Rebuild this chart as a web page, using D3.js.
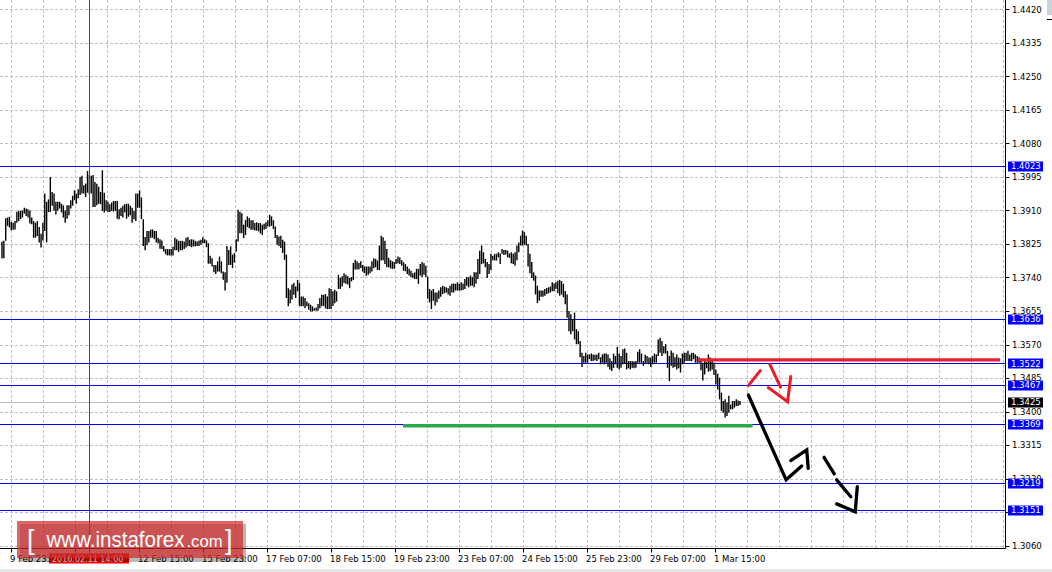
<!DOCTYPE html>
<html><head><meta charset="utf-8">
<script src="https://cdn.jsdelivr.net/npm/d3@7"></script>
<style>html,body{margin:0;padding:0;background:#fff;overflow:hidden}</style>
</head><body>
<svg id="c" width="1052" height="572"></svg>
<script>
// ---------- DATA ----------
const priceTicks = [1.4420,1.4335,1.4250,1.4165,1.4080,1.3995,1.3910,1.3825,1.3740,1.3655,1.3570,1.3485,1.3400,1.3315,1.3230,1.3145,1.3060];
const timeLabels = ["9 Feb 23:00","11 Feb 07:00","12 Feb 15:00","15 Feb 23:00","17 Feb 07:00","18 Feb 15:00","19 Feb 23:00","23 Feb 07:00","24 Feb 15:00","25 Feb 23:00","29 Feb 07:00","1 Mar 15:00"];
const barHigh = [
1.3831,1.3833,1.3890,1.3892,1.3894,1.3881,1.3879,1.3883,1.3907,1.3909,
1.3909,1.3910,1.3917,1.3915,1.3913,1.3910,1.3892,1.3883,1.3879,1.3883,
1.3868,1.3851,1.3879,1.3953,1.3932,1.3938,1.3995,1.3957,1.3953,1.3932,
1.3932,1.3932,1.3927,1.3923,1.3910,1.3923,1.3923,1.3936,1.3947,1.3961,
1.3953,1.3964,1.3995,1.3998,1.3974,1.3978,1.4010,1.4000,1.3998,1.4000,
1.3982,1.3978,1.3970,1.3957,1.4012,1.3955,1.3936,1.3932,1.3926,1.3930,
1.3934,1.3934,1.3934,1.3913,1.3917,1.3922,1.3926,1.3927,1.3927,1.3922,
1.3917,1.3909,1.3953,1.3953,1.3961,1.3943,1.3888,1.3843,1.3858,1.3858,
1.3862,1.3862,1.3858,1.3858,1.3841,1.3837,1.3834,1.3820,1.3812,1.3812,
1.3812,1.3812,1.3818,1.3841,1.3837,1.3833,1.3833,1.3833,1.3831,1.3841,1.3843,
1.3836,1.3837,1.3836,1.3833,1.3831,1.3834,1.3836,1.3842,1.3837,1.3834,
1.3827,1.3795,1.3789,1.3772,1.3772,1.3781,1.3793,1.3781,1.3755,1.3753,
1.3820,1.3810,1.3819,1.3798,1.3802,1.3837,1.3912,1.3907,1.3903,1.3874,
1.3886,1.3895,1.3891,1.3885,1.3885,1.3878,1.3880,1.3878,1.3878,1.3874,
1.3876,1.3880,1.3885,1.3899,1.3895,1.3885,1.3869,1.3848,1.3844,1.3846,
1.3836,1.3831,1.3798,1.3713,1.3709,1.3722,1.3726,1.3717,1.3734,1.3726,
1.3692,1.3692,1.3688,1.3679,1.3675,1.3671,1.3667,1.3662,1.3664,1.3673,
1.3688,1.3696,1.3696,1.3698,1.3692,1.3713,1.3711,1.3705,1.3709,1.3705,
1.3747,1.3739,1.3743,1.3751,1.3747,1.3743,1.3739,1.3741,1.3777,1.3785,
1.3781,1.3777,1.3781,1.3772,1.3768,1.3768,1.3768,1.3768,1.3781,1.3789,
1.3787,1.3783,1.3821,1.3846,1.3842,1.3833,1.3812,1.3790,1.3784,1.3781,
1.3779,1.3787,1.3793,1.3791,1.3784,1.3779,1.3774,1.3768,1.3762,1.3757,
1.3751,1.3753,1.3762,1.3762,1.3774,1.3779,1.3776,1.3770,1.3742,1.3711,
1.3707,1.3711,1.3702,1.3702,1.3707,1.3715,1.3719,1.3717,1.3715,1.3713,
1.3719,1.3724,1.3725,1.3724,1.3728,1.3724,1.3728,1.3725,1.3736,1.3741,
1.3741,1.3745,1.3741,1.3753,1.3753,1.3787,1.3808,1.3821,1.3804,1.3787,
1.3779,1.3774,1.3800,1.3795,1.3800,1.3800,1.3804,1.3801,1.3812,1.3810,
1.3810,1.3808,1.3801,1.3804,1.3800,1.3804,1.3821,1.3829,1.3846,1.3859,
1.3855,1.3846,1.3825,1.3800,1.3779,1.3753,1.3745,1.3719,1.3707,1.3707,
1.3707,1.3711,1.3713,1.3715,1.3717,1.3728,1.3725,1.3728,1.3732,1.3734,
1.3731,1.3724,1.3706,1.3697,1.3655,1.3647,1.3634,1.3651,1.3609,1.3604,
1.3579,1.3549,1.3541,1.3549,1.3545,1.3545,1.3547,1.3545,1.3544,1.3545,
1.3549,1.3538,1.3545,1.3547,1.3547,1.3545,1.3535,1.3528,1.3547,1.3541,
1.3564,1.3547,1.3541,1.3558,1.3560,1.3549,1.3528,1.3528,1.3528,1.3527,
1.3528,1.3552,1.3558,1.3547,1.3528,1.3544,1.3541,1.3537,1.3537,1.3541,
1.3547,1.3545,1.3583,1.3587,1.3579,1.3566,1.3571,1.3554,1.3541,1.3555,
1.3549,1.3538,1.3545,1.3537,1.3535,1.3547,1.3549,1.3549,1.3554,1.3545,
1.3549,1.3549,1.3545,1.3541,1.3538,1.3528,1.3524,1.3528,1.3526,1.3545,
1.3537,1.3528,1.3524,1.3507,1.3496,1.3486,1.3448,1.3427,1.3431,1.3423,
1.3440,1.3418,1.3427,1.3427,1.3431,1.3428,1.3427];
const barLow = [
1.3788,1.3789,1.3833,1.3871,1.3867,1.3860,1.3861,1.3862,1.3879,1.3883,
1.3888,1.3892,1.3902,1.3896,1.3892,1.3877,1.3875,1.3841,1.3841,1.3845,
1.3829,1.3816,1.3834,1.3858,1.3829,1.3906,1.3906,1.3922,1.3909,1.3900,
1.3909,1.3915,1.3905,1.3892,1.3879,1.3889,1.3898,1.3915,1.3922,1.3936,
1.3927,1.3941,1.3949,1.3953,1.3953,1.3944,1.3955,1.3951,1.3953,1.3919,
1.3919,1.3923,1.3927,1.3926,1.3909,1.3905,1.3909,1.3906,1.3906,1.3909,
1.3907,1.3909,1.3889,1.3888,1.3896,1.3892,1.3905,1.3889,1.3894,1.3898,
1.3879,1.3888,1.3883,1.3917,1.3917,1.3888,1.3820,1.3809,1.3822,1.3829,
1.3841,1.3841,1.3837,1.3829,1.3826,1.3813,1.3812,1.3806,1.3799,1.3796,
1.3796,1.3796,1.3796,1.3809,1.3809,1.3805,1.3809,1.3809,1.3812,1.3816,1.3820,
1.3819,1.3817,1.3819,1.3819,1.3820,1.3820,1.3823,1.3827,1.3827,1.3817,
1.3775,1.3775,1.3768,1.3753,1.3749,1.3755,1.3755,1.3751,1.3734,1.3707,
1.3727,1.3772,1.3772,1.3764,1.3778,1.3806,1.3831,1.3852,1.3852,1.3840,
1.3848,1.3868,1.3865,1.3861,1.3861,1.3859,1.3859,1.3857,1.3852,1.3848,
1.3861,1.3863,1.3869,1.3869,1.3871,1.3863,1.3840,1.3823,1.3820,1.3815,
1.3802,1.3785,1.3688,1.3667,1.3675,1.3684,1.3696,1.3688,1.3705,1.3668,
1.3667,1.3667,1.3662,1.3667,1.3658,1.3654,1.3654,1.3656,1.3656,1.3656,
1.3662,1.3667,1.3668,1.3662,1.3660,1.3660,1.3660,1.3668,1.3675,1.3679,
1.3711,1.3711,1.3717,1.3726,1.3724,1.3722,1.3713,1.3730,1.3734,1.3760,
1.3760,1.3761,1.3764,1.3755,1.3751,1.3744,1.3747,1.3751,1.3755,1.3764,
1.3766,1.3759,1.3759,1.3783,1.3784,1.3774,1.3766,1.3766,1.3763,1.3762,
1.3762,1.3774,1.3776,1.3774,1.3770,1.3757,1.3756,1.3749,1.3745,1.3741,
1.3739,1.3736,1.3736,1.3724,1.3745,1.3741,1.3747,1.3741,1.3686,1.3677,
1.3660,1.3681,1.3669,1.3677,1.3686,1.3691,1.3698,1.3700,1.3702,1.3697,
1.3694,1.3702,1.3702,1.3707,1.3707,1.3707,1.3707,1.3708,1.3711,1.3719,
1.3715,1.3719,1.3719,1.3715,1.3724,1.3736,1.3749,1.3774,1.3776,1.3766,
1.3739,1.3749,1.3759,1.3784,1.3783,1.3783,1.3791,1.3774,1.3800,1.3797,
1.3798,1.3791,1.3790,1.3776,1.3774,1.3770,1.3784,1.3804,1.3821,1.3821,
1.3823,1.3821,1.3768,1.3751,1.3739,1.3732,1.3697,1.3675,1.3681,1.3691,
1.3691,1.3694,1.3698,1.3700,1.3702,1.3705,1.3705,1.3711,1.3700,1.3694,
1.3697,1.3690,1.3672,1.3638,1.3604,1.3596,1.3604,1.3583,1.3571,1.3571,
1.3538,1.3513,1.3524,1.3524,1.3524,1.3533,1.3528,1.3528,1.3530,1.3528,
1.3533,1.3520,1.3524,1.3520,1.3524,1.3513,1.3507,1.3503,1.3511,1.3520,
1.3511,1.3507,1.3511,1.3520,1.3521,1.3507,1.3510,1.3507,1.3511,1.3510,
1.3511,1.3524,1.3524,1.3524,1.3516,1.3521,1.3524,1.3520,1.3513,1.3520,
1.3524,1.3524,1.3541,1.3549,1.3541,1.3547,1.3547,1.3511,1.3477,1.3516,
1.3511,1.3513,1.3507,1.3510,1.3499,1.3520,1.3524,1.3528,1.3528,1.3528,
1.3528,1.3533,1.3524,1.3524,1.3524,1.3505,1.3479,1.3494,1.3510,1.3501,
1.3503,1.3507,1.3493,1.3469,1.3456,1.3431,1.3402,1.3397,1.3385,1.3389,
1.3397,1.3406,1.3406,1.3410,1.3414,1.3414,1.3417];
const levelPrices = [1.4023,1.3636,1.3522,1.3467,1.3369,1.3219,1.3151];
const bidPrice = 1.3425;
const crosshairBar = 47;
const crosshairLabel = "2016.02.11 14:00";
// annotations: [bar index, price]
const redResistance = [[374.2,1.3531],[536.9,1.3531]];
const greenSupport = [[215.7,1.3364],[403.8,1.3364]];
const blackMain = [[401.5,1.3442],[421.8,1.3227],[430.2,1.3262]];
const blackHead = [[424.3,1.3276],[432.9,1.3303],[433.7,1.3256]];
const dashSeg1 = [[442.2,1.3284],[447.7,1.3242]];
const dashSeg2 = [[449.0,1.3227],[456.6,1.3184]];
const dashHead = [[449.0,1.3166],[459.0,1.3146],[460.1,1.3210]];
const redSeg1 = [[401.5,1.3466],[407.9,1.3504]];
const redSeg2 = [[413.1,1.3519],[418.8,1.3462]];
const redHead = [[412.2,1.3461],[422.6,1.3425],[424.3,1.3489]];

// ---------- DRAW ----------
const FONT = "'DejaVu Sans', Tahoma, sans-serif";
const FS = '8.5px';
const svg = d3.select('#c');
const plotR = 1005.5, plotB = 548.5;
const y = d3.scaleLinear().domain([1.3060,1.4420]).range([545.7,9.3]);
const N = barHigh.length;
const x = d3.scaleLinear().domain([0,N-1]).range([2,740]);
const tx = d3.scaleLinear().domain([0,timeLabels.length-1]).range([11,715]);
const cy = v => Math.round(y(v)) + 0.5;

// grid
svg.append('g').selectAll('line').data(priceTicks).join('line')
  .attr('x1',0).attr('x2',1003).attr('y1',cy).attr('y2',cy)
  .attr('stroke','#c0c0c0').attr('stroke-dasharray','3,2');
const vGrid = d3.range(0,32).map(k=>k/2);
svg.append('g').selectAll('line').data(vGrid).join('line')
  .attr('x1',d=>Math.round(tx(d))+0.5).attr('x2',d=>Math.round(tx(d))+0.5)
  .attr('y1',0).attr('y2',plotB)
  .attr('stroke','#c0c0c0').attr('stroke-dasharray','3,2');

// bid line
svg.append('line').attr('x1',0).attr('x2',plotR).attr('y1',cy(bidPrice)).attr('y2',cy(bidPrice))
  .attr('stroke','#c0c0c0');
// level lines
svg.append('g').selectAll('line').data(levelPrices).join('line')
  .attr('x1',0).attr('x2',plotR).attr('y1',cy).attr('y2',cy)
  .attr('stroke','#0000ff').attr('stroke-width',1);

// bars
svg.append('g').selectAll('line').data(barHigh).join('line')
  .attr('x1',(d,i)=>x(i)).attr('x2',(d,i)=>x(i))
  .attr('y1',d=>y(d)).attr('y2',(d,i)=>y(barLow[i]))
  .attr('stroke','#000').attr('stroke-width',1.4);

// crosshair
svg.append('line').attr('x1',Math.round(x(crosshairBar))+0.5).attr('x2',Math.round(x(crosshairBar))+0.5)
  .attr('y1',0).attr('y2',553).attr('stroke','#ff0000');

// annotations
const ln = d3.line().x(d=>x(d[0])).y(d=>y(d[1]));
svg.append('path').attr('d',ln(redResistance)).attr('stroke','#e8202a').attr('stroke-width',3.2).attr('fill','none');
svg.append('path').attr('d',ln(greenSupport)).attr('stroke','#2aa84a').attr('stroke-width',3.4).attr('fill','none');
[blackMain,blackHead,dashSeg1,dashSeg2,dashHead].forEach(p=>{
  svg.append('path').attr('d',ln(p)).attr('stroke','#000').attr('stroke-width',3.3)
    .attr('fill','none').attr('stroke-linecap','round').attr('stroke-linejoin','miter');
});
[redSeg1,redSeg2,redHead].forEach(p=>{
  svg.append('path').attr('d',ln(p)).attr('stroke','#ee1c25').attr('stroke-width',3)
    .attr('fill','none').attr('stroke-linecap','round').attr('stroke-linejoin','miter');
});

// axes lines
svg.append('line').attr('x1',plotR).attr('x2',plotR).attr('y1',0).attr('y2',plotB).attr('stroke','#000');
svg.append('line').attr('x1',0).attr('x2',plotR).attr('y1',plotB).attr('y2',plotB).attr('stroke','#000');

// right axis ticks + labels
const gY = svg.append('g').attr('font-family',FONT).attr('font-size',FS);
gY.selectAll('line').data(priceTicks).join('line')
  .attr('x1',plotR).attr('x2',plotR+4).attr('y1',cy).attr('y2',cy).attr('stroke','#000');
gY.selectAll('text').data(priceTicks).join('text')
  .attr('x',1012).attr('y',d=>y(d)+3.2).attr('fill','#000').text(d=>d.toFixed(4));

// bottom axis ticks + labels
const gX = svg.append('g').attr('font-family',FONT).attr('font-size',FS);
gX.selectAll('line').data(timeLabels).join('line')
  .attr('x1',(d,i)=>Math.round(tx(i))+0.5).attr('x2',(d,i)=>Math.round(tx(i))+0.5)
  .attr('y1',plotB).attr('y2',plotB+4).attr('stroke','#000');
gX.selectAll('text').data(timeLabels).join('text')
  .attr('x',(d,i)=>tx(i)-1).attr('y',562).attr('fill','#000').text(d=>d);

// price boxes
const boxes = levelPrices.map(v=>({v,fill:'#0000ff'})).concat([{v:bidPrice,fill:'#000'}]);
const gB = svg.append('g').attr('font-family',FONT).attr('font-size',FS);
gB.selectAll('rect').data(boxes).join('rect')
  .attr('x',1008).attr('y',d=>Math.round(y(d.v))-4.5).attr('width',35).attr('height',10).attr('fill',d=>d.fill);
gB.selectAll('text').data(boxes).join('text')
  .attr('x',1011).attr('y',d=>y(d.v)+3.2).attr('fill','#fff').text(d=>d.v.toFixed(4));

// neighbouring window edge (right sliver)
svg.append('rect').attr('x',1047).attr('y',0).attr('width',5).attr('height',15).attr('fill','#c8d2de');
svg.append('line').attr('x1',1047).attr('x2',1052).attr('y1',19.5).attr('y2',19.5).attr('stroke','#000');

// crosshair date label
svg.append('rect').attr('x',49).attr('y',553.5).attr('width',80).attr('height',10).attr('fill','#ff0000');
svg.append('text').attr('x',52).attr('y',562).attr('font-family',FONT).attr('font-size','8px')
  .attr('fill','#fff').text(crosshairLabel);

// bottom window border
svg.append('rect').attr('x',0).attr('y',569).attr('width',1052).attr('height',3).attr('fill','#e6e6e6');

// watermark
const wm = svg.append('g');
wm.append('rect').attr('x',20).attr('y',524).attr('width',226).attr('height',38).attr('fill','#000').attr('opacity',0.28);
wm.append('rect').attr('x',17).attr('y',521).attr('width',226).attr('height',37).attr('fill','rgba(212,45,45,0.72)');
const wt = wm.append('g').attr('fill','#fff').attr('font-family',"'Liberation Sans', Arial, sans-serif");
wt.append('text').attr('x',27).attr('y',549).attr('font-size','27px').attr('font-weight',300).text('[');
wt.append('text').attr('x',46.5).attr('y',547).attr('font-size','22px').attr('textLength',138).attr('lengthAdjust','spacingAndGlyphs').text('www.instaforex');
wt.append('text').attr('x',186.5).attr('y',547).attr('font-size','16px').attr('textLength',36).attr('lengthAdjust','spacingAndGlyphs').text('.com');
wt.append('text').attr('x',225).attr('y',549).attr('font-size','27px').text(']');
</script>
</body></html>
